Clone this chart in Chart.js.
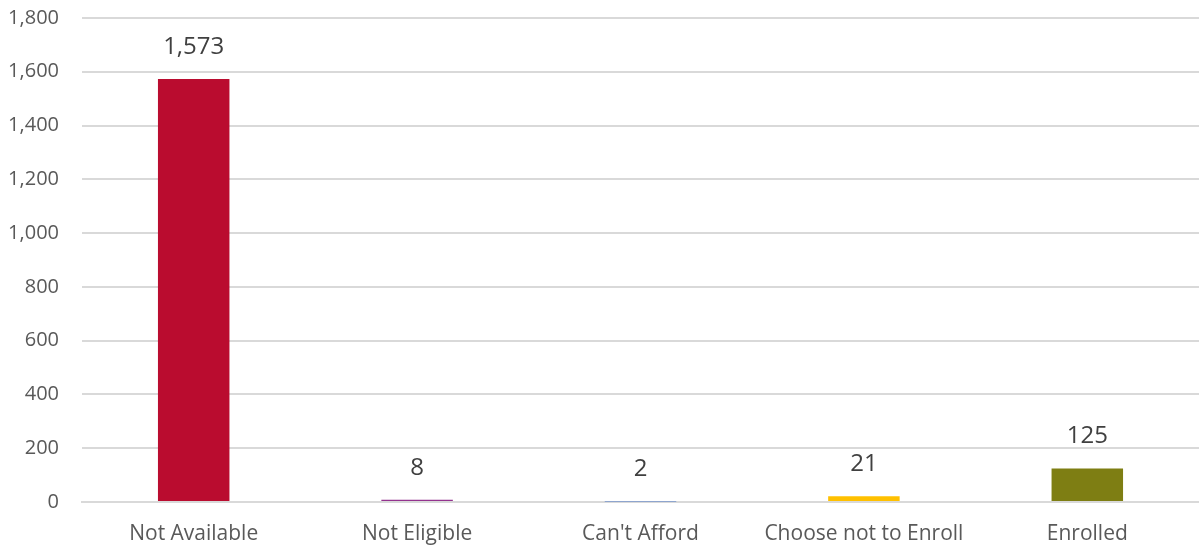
<!DOCTYPE html>
<html>
<head>
<meta charset="utf-8">
<script src="https://cdn.jsdelivr.net/npm/chart.js@4.4.1/dist/chart.umd.min.js"></script>
<style>
  html, body { margin: 0; padding: 0; background: #fff; }
  #wrap { width: 1199px; height: 546px; }
</style>
</head>
<body>
<div id="wrap"><canvas id="enroll"></canvas></div>
<script>
const categories = ['Not Available', 'Not Eligible', "Can't Afford", 'Choose not to Enroll', 'Enrolled'];
const counts = [1573, 8, 2, 21, 125];
const barColors = ['#BA0C2F', '#93328E', '#4472C4', '#FFC000', '#7E7E13'];
const yTicks = [0, 200, 400, 600, 800, 1000, 1200, 1400, 1600, 1800];

const fontFamily = "'Open Sans', 'Liberation Sans', sans-serif";

// prints the count above each bar
const valueLabels = {
    id: 'valueLabels',
    afterDatasetsDraw(chart) {
        const ctx = chart.ctx;
        const meta = chart.getDatasetMeta(0);
        ctx.save();
        ctx.font = '24px ' + fontFamily;
        ctx.fillStyle = '#404040';
        ctx.textAlign = 'center';
        ctx.textBaseline = 'middle';
        meta.data.forEach(function (bar, i) {
            ctx.fillText(counts[i].toLocaleString('en-US'), bar.x, bar.y - 32);
        });
        ctx.restore();
    }
};

new Chart('enroll', {
    type: 'bar',
    data: {
        labels: categories,
        datasets: [{
            data: counts,
            backgroundColor: barColors,
            categoryPercentage: 1,
            barPercentage: 0.32
        }]
    },
    options: {
        responsive: true,
        maintainAspectRatio: false,
        animation: false,
        layout: { padding: { top: 18, right: 0, bottom: 0, left: 0 } },
        plugins: {
            legend: { display: false },
            tooltip: { enabled: false }
        },
        scales: {
            x: {
                grid: { display: false, drawTicks: false },
                border: { color: '#d9d9d9', width: 2 },
                ticks: {
                    color: '#595959',
                    padding: 19,
                    font: { family: fontFamily, size: 21 }
                },
                afterFit(scale) { scale.height = 44; }
            },
            y: {
                min: 0,
                max: 1800,
                afterBuildTicks(scale) {
                    scale.ticks = yTicks.map(v => ({ value: v }));
                },
                grid: { color: '#d9d9d9', lineWidth: 2, drawTicks: false },
                border: { display: false },
                ticks: {
                    color: '#595959',
                    padding: 23,
                    font: { family: fontFamily, size: 20 },
                    callback: v => v.toLocaleString('en-US')
                },
                afterFit(scale) {
                    scale.width = 82;
                    scale.paddingTop = 0;
                    scale.paddingBottom = 0;
                }
            }
        }
    },
    plugins: [valueLabels]
});
</script>
</body>
</html>
